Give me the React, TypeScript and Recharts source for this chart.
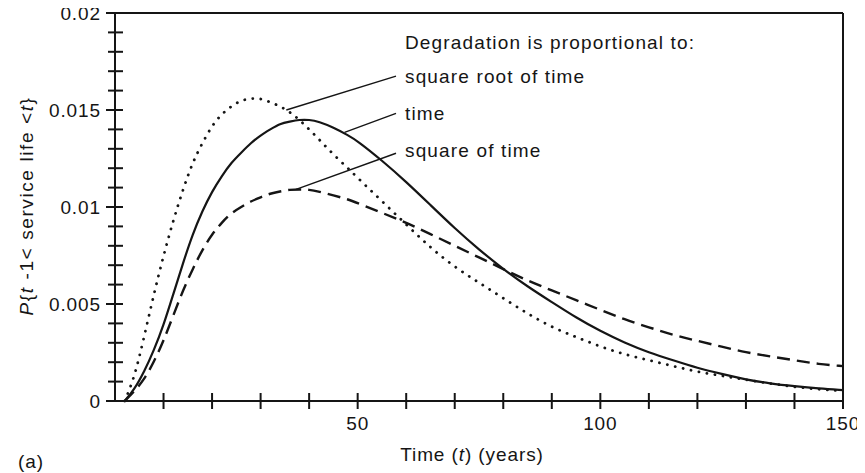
import React from "react";
import { LineChart, Line, XAxis, YAxis, ReferenceLine } from "recharts";

// ---- data ----
const years = [2, 4, 6, 8, 10, 12, 14, 16, 18, 20, 22, 24, 26, 28, 30, 32, 34, 36, 38, 40, 42, 45, 48, 50, 55, 60, 65, 70, 75, 80, 85, 90, 95, 100, 105, 110, 115, 120, 125, 130, 135, 140, 145, 150];

// Degradation proportional to square root of time (dotted)
const sqrtTime = [0, 0.0012, 0.0033, 0.0055, 0.0075, 0.0093, 0.0109, 0.0123, 0.0133, 0.0142, 0.0148, 0.0152, 0.0155, 0.0156, 0.0156, 0.0154, 0.0152, 0.0149, 0.0145, 0.014, 0.0135, 0.0127, 0.012, 0.0115, 0.0103, 0.0091, 0.0079, 0.0069, 0.0061, 0.0053, 0.0045, 0.0038, 0.0033, 0.0028, 0.0024, 0.0021, 0.0018, 0.0015, 0.0013, 0.0011, 0.0009, 0.00073, 0.0006, 0.00052];

// Degradation proportional to time (solid)
const linearTime = [0, 0.0006, 0.0015, 0.0026, 0.0039, 0.0055, 0.0071, 0.0086, 0.0098, 0.0108, 0.0116, 0.0123, 0.0128, 0.0133, 0.0137, 0.014, 0.0143, 0.0144, 0.0145, 0.0145, 0.0144, 0.0141, 0.0137, 0.0134, 0.0124, 0.0113, 0.0101, 0.0089, 0.0078, 0.0068, 0.0059, 0.0051, 0.0043, 0.0036, 0.003, 0.0025, 0.0021, 0.0017, 0.0014, 0.0011, 0.0009, 0.00076, 0.00064, 0.00056];

// Degradation proportional to square of time (dashed)
const squareTime = [0, 0.0005, 0.0011, 0.002, 0.0031, 0.0044, 0.0057, 0.0068, 0.0078, 0.0086, 0.0092, 0.0097, 0.01, 0.0103, 0.0105, 0.0107, 0.0108, 0.0109, 0.0109, 0.0109, 0.0108, 0.0106, 0.0104, 0.0102, 0.0097, 0.0092, 0.0086, 0.008, 0.0074, 0.0068, 0.0062, 0.0057, 0.0052, 0.0047, 0.0042, 0.0038, 0.0034, 0.0031, 0.0028, 0.0025, 0.0023, 0.0021, 0.0019, 0.0018];

const xTicks = [10, 20, 30, 40, 50, 60, 70, 80, 90, 100, 110, 120, 130, 140, 150];
const xTickLabels = [50, 100, 150];
const yTicks = [0, 0.001, 0.002, 0.003, 0.004, 0.005, 0.006, 0.007, 0.008, 0.009, 0.01, 0.011, 0.012, 0.013, 0.014, 0.015, 0.016, 0.017, 0.018, 0.019, 0.02];
const yTickLabels = ["0", "0.005", "0.01", "0.015", "0.02"];

const legendTitle = "Degradation is proportional to:";
const seriesLabels = ["square root of time", "time", "square of time"];
// leader lines: [curve point, label point] in data units
const leaderFrom = [
  { x: 35.3, y: 0.015 },
  { x: 47.3, y: 0.01385 },
  { x: 37.3, y: 0.01091 },
];
const leaderTo = [
  { x: 57.9, y: 0.01675 },
  { x: 57.9, y: 0.01483 },
  { x: 57.9, y: 0.01277 },
];

const data = years.map((t, i) => ({
  t,
  sqrt: sqrtTime[i],
  lin: linearTime[i],
  sq: squareTime[i],
}));

const INK = "#151515";
const FONT = "'Liberation Sans', Arial, Helvetica, sans-serif";
const FS = 19;
const LS = 0.9;

const XTick = (props: any) => {
  const { x, y, payload } = props;
  const v = payload.value;
  const show = xTickLabels.includes(v);
  return (
    <g>
      <line x1={x} x2={x} y1={y - 8} y2={y + 8} stroke={INK} strokeWidth={2} />
      {show && (
        <text x={x} y={y + 29} textAnchor="middle" fontFamily={FONT} fontSize={FS} letterSpacing={LS} fill={INK}>
          {String(v)}
        </text>
      )}
    </g>
  );
};

const YTick = (props: any) => {
  const { x, y, payload } = props;
  const v = payload.value as number;
  const lab = yTickLabels.find((s) => Math.abs(parseFloat(s) - v) < 1e-9);
  return (
    <g>
      <line x1={lab !== undefined ? x - 9 : x - 7} x2={x + 8} y1={y} y2={y} stroke={INK} strokeWidth={2} />
      {lab !== undefined && (
        <text x={x - 14} y={y + 7} textAnchor="end" fontFamily={FONT} fontSize={FS} letterSpacing={LS} fill={INK}>
          {lab}
        </text>
      )}
    </g>
  );
};

export default function App() {
  const W = 865;
  const H = 473;
  return (
    <div style={{ position: "relative", width: W, height: H, margin: "-8px 0 0 -8px", background: "#fff" }}>
      <LineChart width={W} height={H} data={data} margin={{ top: 13, right: 22, bottom: 12, left: 10 }}>
        <XAxis
          dataKey="t"
          type="number"
          domain={[0, 150]}
          ticks={xTicks}
          interval={0}
          tick={XTick}
          tickLine={false}
          tickSize={0}
          tickMargin={0}
          axisLine={{ stroke: INK, strokeWidth: 2 }}
          height={60}
        />
        <YAxis
          type="number"
          domain={[0, 0.02]}
          ticks={yTicks}
          interval={0}
          tick={YTick}
          tickLine={false}
          tickSize={0}
          tickMargin={0}
          axisLine={{ stroke: INK, strokeWidth: 2 }}
          width={105}
        />
        <ReferenceLine y={0.02} stroke={INK} strokeWidth={2} />
        <ReferenceLine x={150} stroke={INK} strokeWidth={2} />
        <Line
          type="basis"
          dataKey="sqrt"
          stroke={INK}
          strokeWidth={2.8}
          strokeDasharray="0.1 8"
          strokeLinecap="round"
          dot={false}
          activeDot={false}
          isAnimationActive={false}
        />
        <Line
          type="basis"
          dataKey="lin"
          stroke={INK}
          strokeWidth={2.2}
          dot={false}
          activeDot={false}
          isAnimationActive={false}
        />
        <Line
          type="basis"
          dataKey="sq"
          stroke={INK}
          strokeWidth={2.4}
          strokeDasharray="13 7"
          dot={false}
          activeDot={false}
          isAnimationActive={false}
        />
        {leaderFrom.map((p, i) => (
          <ReferenceLine key={i} segment={[p, leaderTo[i]]} stroke={INK} strokeWidth={1.4} />
        ))}
      </LineChart>
      <svg
        width={W}
        height={H}
        style={{ position: "absolute", left: 0, top: 0, pointerEvents: "none" }}
        fontFamily={FONT}
        fill={INK}
      >
        <text x={405} y={49} fontSize={FS} letterSpacing={1.15}>{legendTitle}</text>
        <text x={405} y={83} fontSize={FS} letterSpacing={1.15}>{seriesLabels[0]}</text>
        <text x={405} y={120} fontSize={FS} letterSpacing={1.15}>{seriesLabels[1]}</text>
        <text x={405} y={157} fontSize={FS} letterSpacing={1.15}>{seriesLabels[2]}</text>
        <text x={472} y={461} fontSize={FS} letterSpacing={LS} textAnchor="middle">
          Time (<tspan fontStyle="italic">t</tspan>) (years)
        </text>
        <text x={18} y={468} fontSize={FS} letterSpacing={LS}>(a)</text>
        <text
          transform="translate(33,206) rotate(-90)"
          fontSize={FS}
          letterSpacing={1.6}
          textAnchor="middle"
        >
          <tspan fontStyle="italic">P</tspan>
          {"{"}
          <tspan fontStyle="italic">t</tspan>
          {" -1< service life <"}
          <tspan fontStyle="italic">t</tspan>
          {"}"}
        </text>
      </svg>
    </div>
  );
}
